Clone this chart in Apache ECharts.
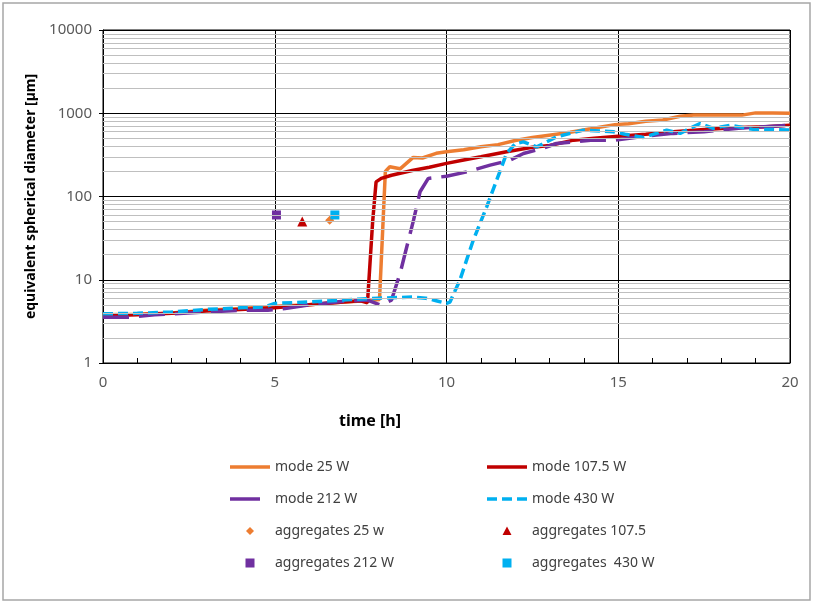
<!DOCTYPE html>
<html><head><meta charset="utf-8">
<script src="https://cdn.jsdelivr.net/npm/echarts@6/dist/echarts.min.js"></script>
<style>html,body{margin:0;padding:0;background:#fff}#c{width:815px;height:604px}</style>
</head><body><div id="c"></div>
<script>
// [time h, diameter µm]
const mode25 = [[0,3.8],[1,3.85],[2,4.0],[3,4.3],[4,4.5],[5,4.8],[6,5.0],[7,5.4],[7.7,5.6],[8.05,5.8],[8.22,200],[8.35,228],[8.65,215],[9.03,295],[9.3,290],[9.7,330],[10,345],[10.5,365],[11,395],[11.5,420],[12,470],[12.5,510],[13.2,560],[13.6,590],[14.2,650],[14.9,730],[15.3,750],[15.8,800],[16.3,830],[16.8,920],[17.2,950],[18.0,950],[18.6,950],[19.0,1010],[19.5,1010],[20,1000]];
const mode107 = [[0,3.7],[1,3.8],[2,3.95],[3,4.2],[4,4.4],[5,4.6],[6,5.0],[7,5.4],[7.5,5.6],[7.7,5.3],[7.85,50],[7.95,150],[8.1,165],[8.4,180],[9,205],[9.5,225],[10,250],[10.5,275],[11,300],[11.75,345],[12.5,390],[13,410],[13.7,475],[14.3,500],[15,530],[15.8,560],[16.6,600],[17.5,640],[18.5,675],[19.3,690],[20,720]];
const mode212 = [[0,3.55],[0.8,3.55],[1.5,3.8],[3,4.1],[4,4.3],[4.8,4.3],[5.3,4.5],[6,5.0],[7,5.5],[7.7,5.7],[8.06,5.0],[8.4,5.7],[8.65,12],[9.04,52],[9.23,114],[9.47,165],[10,175],[10.6,198],[11.27,238],[11.85,273],[12.24,329],[12.8,378],[13.2,433],[14.2,475],[14.9,475],[15.6,520],[16.6,573],[17.5,600],[18.5,660],[19.5,700],[20,717]];
const mode430 = [[0,3.9],[1,3.95],[2,4.1],[3,4.4],[4,4.6],[4.7,4.7],[5,5.2],[6,5.4],[7,5.7],[8,6.0],[9,6.2],[9.4,6.0],[9.7,5.6],[10.0,5.2],[10.1,5.4],[10.39,9.9],[10.78,30],[11.17,75],[11.46,157],[11.75,329],[12.0,430],[12.24,453],[12.63,395],[13.2,520],[13.98,627],[14.86,598],[15.2,560],[15.73,512],[16.41,627],[16.8,573],[17.38,754],[17.77,660],[18.25,717],[18.93,640],[19.5,640],[20,627]];
const agg25 = [[6.6,52]];
const agg107 = [[5.8,50]];
const agg212 = [[5.05,60]];
const agg430 = [[6.75,60]];
const minorGrid = [2,3,4,5,6,7,8,9,20,30,40,50,60,70,80,90,200,300,400,500,600,700,800,900,2000,3000,4000,5000,6000,7000,8000,9000];
const xTicks = [0,5,10,15,20];
const yTicks = [1,10,100,1000,10000];

const FONT = 'Noto Sans';
const chart = echarts.init(document.getElementById('c'), null, {renderer:'canvas'});
// legend icons: each path spans the full 40x14 item box so it is drawn 1:1
const BOX = 'M0,0H0.01V0.01H0Z M39.99,13.99H40V14H39.99Z ';
const ICON_SOLID = 'path://' + BOX + 'M0,5.25H40V8.75H0Z';
const ICON_LONGDASH = 'path://' + BOX + 'M0,5.25H30V8.75H0Z';
const ICON_SHORTDASH = 'path://' + BOX + 'M0,5.25H10V8.75H0Z M15,5.25H25V8.75H15Z M30,5.25H40V8.75H30Z';
const ICON_DIAMOND = 'path://' + BOX + 'M20,3L24,7L20,11L16,7Z';
const ICON_TRIANGLE = 'path://' + BOX + 'M20,2.5L24.5,11L15.5,11Z';
const ICON_SQUARE = 'path://' + BOX + 'M15.5,2.5H24.5V11.5H15.5Z';
const legendBase = {orient:'vertical', itemWidth:40, itemHeight:14, itemGap:18, top:460, padding:0,
  textStyle:{fontFamily:FONT, fontSize:14, color:'#404040'}, selectedMode:false, symbolKeepAspect:true};
chart.setOption({
  animation:false,
  textStyle:{fontFamily:FONT},
  graphic:[
    {type:'rect', shape:{x:3,y:3,width:807,height:597}, style:{fill:'none', stroke:'#A6A6A6', lineWidth:1.5}},
    {type:'text', x:370, y:421, style:{text:'time [h]', font:'bold 16px "Noto Sans"', fill:'#000', align:'center', verticalAlign:'middle'}}
  ],
  grid:{left:103, right:25, top:30, bottom:241, show:true, borderColor:'#000', borderWidth:1},
  legend:[
    Object.assign({}, legendBase, {left:230, data:[
      {name:'mode 25 W', icon:ICON_SOLID},{name:'mode 212 W', icon:ICON_LONGDASH},
      {name:'aggregates 25 w', icon:ICON_DIAMOND},{name:'aggregates 212 W', icon:ICON_SQUARE}]}),
    Object.assign({}, legendBase, {left:487, data:[
      {name:'mode 107.5 W', icon:ICON_SOLID},{name:'mode 430 W', icon:ICON_SHORTDASH},
      {name:'aggregates 107.5', icon:ICON_TRIANGLE},{name:'aggregates  430 W', icon:ICON_SQUARE}]})
  ],
  xAxis:{type:'value', min:xTicks[0], max:xTicks[xTicks.length-1], interval:5,
    axisLine:{lineStyle:{color:'#000', width:1}},
    axisTick:{show:true, inside:true, length:5, lineStyle:{color:'#000'}},
    minorTick:{show:true, splitNumber:5, length:5, lineStyle:{color:'#000'}},
    splitLine:{show:true, lineStyle:{color:'#000', width:1}},
    axisLabel:{fontFamily:FONT, fontSize:15, color:'#595959', margin:12}
  },
  yAxis:{type:'log', logBase:10, min:yTicks[0], max:yTicks[yTicks.length-1],
    name:'equivalent spherical diameter [µm]', nameLocation:'middle', nameRotate:90, nameGap:62,
    nameTextStyle:{fontFamily:FONT, fontSize:14, fontWeight:'bold', color:'#000'},
    axisLine:{show:true, lineStyle:{color:'#000', width:1}},
    axisTick:{show:true, length:4, lineStyle:{color:'#000'}},
    splitLine:{show:true, lineStyle:{color:'#000', width:1}},
    axisLabel:{fontFamily:FONT, fontSize:15, color:'#595959', margin:11, formatter:v=>String(Math.round(v))}
  },
  series:[
    {type:'line', name:'_grid', data:[], z:1, silent:true,
      markLine:{silent:true, symbol:['none','none'], label:{show:false}, animation:false,
        lineStyle:{color:'#BFBFBF', width:1, type:'solid'},
        data: minorGrid.map(v=>({yAxis:v}))}},
    {type:'line', name:'mode 25 W', data:mode25, showSymbol:false, symbol:'none', color:'#ED7D31', lineStyle:{width:3.5}},
    {type:'line', name:'mode 107.5 W', data:mode107, showSymbol:false, symbol:'none', color:'#C00000', lineStyle:{width:3.5}},
    {type:'line', name:'mode 212 W', data:mode212, showSymbol:false, symbol:'none', color:'#7030A0', lineStyle:{width:3.5, type:[26,10]}},
    {type:'line', name:'mode 430 W', data:mode430, showSymbol:false, symbol:'none', color:'#00B0F0', lineStyle:{width:3.5, type:[10,5]}},
    {type:'scatter', name:'aggregates 25 w', data:agg25, symbol:'diamond', symbolSize:9, color:'#ED7D31', itemStyle:{opacity:1}},
    {type:'scatter', name:'aggregates 107.5', data:agg107, symbol:'triangle', symbolSize:10, color:'#C00000', itemStyle:{opacity:1}},
    {type:'scatter', name:'aggregates 212 W', data:agg212, symbol:'rect', symbolSize:9, color:'#7030A0', itemStyle:{opacity:1}},
    {type:'scatter', name:'aggregates  430 W', data:agg430, symbol:'rect', symbolSize:9, color:'#00B0F0', itemStyle:{opacity:1}}
  ]
});
</script></body></html>
